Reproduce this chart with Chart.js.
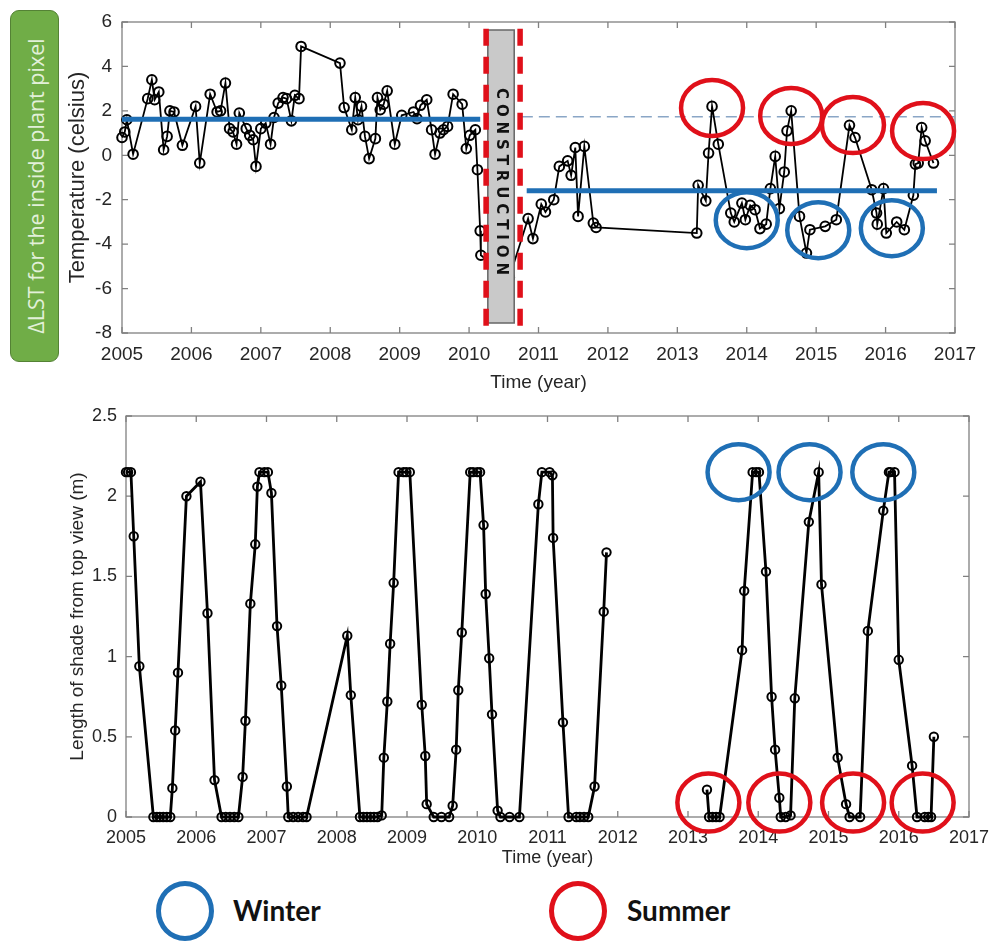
<!DOCTYPE html>
<html>
<head>
<meta charset="utf-8">
<script src="https://cdn.jsdelivr.net/npm/chart.js@4.4.1/dist/chart.umd.min.js"></script>
<style>
  body { margin: 0; background: #fff; width: 992px; height: 944px; position: relative; overflow: hidden; }
  canvas { position: absolute; left: 0; }
  #topChart { top: 0; }
  #bottomChart { top: 395px; }
  .tag { position: absolute; left: 10px; top: 10px; width: 49px; height: 352px; background: #70ad47;
         border: 1.5px solid #548235; border-radius: 9px; box-sizing: border-box; }
  .tag span { position: absolute; left: 50%; top: 50%; transform: translate(-50%, -50%) rotate(-90deg);
              white-space: nowrap; color: #e2f0d9; font: 21.5px "Open Sans", "Noto Sans", sans-serif; }
  .ring { position: absolute; width: 48px; height: 50px; border-radius: 50%; border: 5px solid; }
  .lbl { position: absolute; font: bold 28px Lato, "Noto Sans", sans-serif; color: #111; }
</style>
</head>
<body>
<div class="tag"><span>ΔLST for the inside plant pixel</span></div>
<canvas id="topChart" width="992" height="395"></canvas>
<canvas id="bottomChart" width="992" height="480"></canvas>
<div class="ring" style="left:156px;top:881px;border-color:#1f6fb5"></div>
<div class="lbl" style="left:233px;top:893px">Winter</div>
<div class="ring" style="left:549px;top:881px;border-color:#e0101a"></div>
<div class="lbl" style="left:627px;top:893px">Summer</div>
<script>
// top panel: ΔLST of the plant pixel (celsius)
const tempYears = [
  2005.00, 2005.04, 2005.07, 2005.16, 2005.37, 2005.43, 2005.47, 2005.53, 2005.60, 2005.65,
  2005.69, 2005.75, 2005.87, 2006.06, 2006.12, 2006.27, 2006.37, 2006.42, 2006.49, 2006.55,
  2006.60, 2006.65, 2006.69, 2006.79, 2006.84, 2006.89, 2006.93, 2007.00, 2007.07, 2007.14,
  2007.19, 2007.25, 2007.32, 2007.37, 2007.44, 2007.49, 2007.55, 2007.58, 2008.14, 2008.20,
  2008.31, 2008.36, 2008.40, 2008.45, 2008.50, 2008.56, 2008.65, 2008.68, 2008.72, 2008.77,
  2008.82, 2008.93, 2009.03, 2009.20, 2009.25, 2009.30, 2009.39, 2009.46, 2009.51, 2009.58,
  2009.63, 2009.69, 2009.77, 2009.90, 2009.96, 2010.01, 2010.09, 2010.12, 2010.16, 2010.17,
  2010.58, 2010.85, 2010.92, 2011.04, 2011.10, 2011.22, 2011.30, 2011.42, 2011.47, 2011.53,
  2011.57, 2011.66, 2011.79, 2011.83, 2013.28, 2013.30, 2013.41, 2013.45, 2013.50, 2013.59,
  2013.77, 2013.82, 2013.93, 2013.98, 2014.05, 2014.12, 2014.19, 2014.28, 2014.34, 2014.41,
  2014.47, 2014.54, 2014.58, 2014.64, 2014.76, 2014.86, 2014.91, 2015.13, 2015.29, 2015.48,
  2015.56, 2015.80, 2015.87, 2015.88, 2015.97, 2016.01, 2016.16, 2016.27, 2016.40, 2016.43,
  2016.47, 2016.52, 2016.57, 2016.69
];
const tempValues = [
  0.8, 1.05, 1.6, 0.05, 2.55, 3.4, 2.5, 2.85, 0.25, 0.85,
  2.0, 1.95, 0.45, 2.2, -0.35, 2.75, 1.95, 2.0, 3.25, 1.2,
  1.05, 0.5, 1.9, 1.2, 0.9, 0.7, -0.5, 1.2, 1.45, 0.5,
  1.7, 2.35, 2.6, 2.55, 1.55, 2.7, 2.55, 4.9, 4.15, 2.15,
  1.15, 2.6, 1.6, 2.2, 0.85, -0.15, 0.75, 2.6, 2.05, 2.3,
  2.9, 0.5, 1.8, 1.95, 1.65, 2.25, 2.5, 1.15, 0.05, 1.0,
  1.15, 1.3, 2.75, 2.3, 0.3, 0.9, 1.15, -0.65, -3.4, -4.5,
  -5.5, -2.85, -3.75, -2.2, -2.55, -2.0, -0.5, -0.25, -0.9, 0.35,
  -2.75, 0.4, -3.05, -3.25, -3.5, -1.35, -2.05, 0.1, 2.2, 0.5,
  -2.6, -3.0, -2.15, -2.9, -2.25, -2.45, -3.3, -3.1, -1.5, -0.05,
  -2.4, -0.75, 1.1, 2.0, -2.75, -4.4, -3.35, -3.2, -2.9, 1.35,
  0.8, -1.55, -2.6, -3.1, -1.5, -3.5, -3.0, -3.35, -1.8, -0.4,
  -0.35, 1.25, 0.65, -0.35
];
const meanBeforeYears = [2005, 2010.16];
const meanBeforeValue = 1.62;
const meanAfterYears = [2010.83, 2016.74];
const meanAfterValue = -1.6;
const refYears = [2010.76, 2017];
const refValue = 1.74;
const constructionBox = [2010.27, 2010.65];
const constructionLines = [2010.245, 2010.735];
const summerTop = [[2013.50, 2.13], [2014.64, 1.77], [2015.53, 1.36], [2016.54, 1.09]];
const winterTop = [[2014.00, -2.92], [2015.03, -3.37], [2016.09, -3.28]];

// bottom panel: length of shade from top view (m)
const shadeYears = [
  2005.00, 2005.03, 2005.07, 2005.11, 2005.19, 2005.39, 2005.44, 2005.48, 2005.53, 2005.58,
  2005.63, 2005.66, 2005.70, 2005.74, 2005.86, 2006.06, 2006.16, 2006.26, 2006.36, 2006.42,
  2006.48, 2006.54, 2006.60, 2006.66, 2006.70, 2006.77, 2006.84, 2006.87, 2006.90, 2006.97,
  2007.02, 2007.07, 2007.15, 2007.21, 2007.29, 2007.31, 2007.38, 2007.45, 2007.52, 2007.57,
  2008.15, 2008.20, 2008.33, 2008.38, 2008.43, 2008.48, 2008.53, 2008.58, 2008.64, 2008.67,
  2008.72, 2008.76, 2008.81, 2008.88, 2008.95, 2008.99, 2009.04, 2009.21, 2009.26, 2009.28,
  2009.38, 2009.49, 2009.60, 2009.65, 2009.70, 2009.73, 2009.78, 2009.90, 2009.94, 2010.00,
  2010.04, 2010.09, 2010.12, 2010.17, 2010.21, 2010.29, 2010.33, 2010.46, 2010.60, 2010.87,
  2010.92, 2011.03, 2011.07, 2011.08, 2011.22, 2011.30, 2011.41, 2011.46, 2011.52, 2011.58,
  2011.67, 2011.80, 2011.84, 2012.50, 2013.27, 2013.30, 2013.35, 2013.40, 2013.45, 2013.77,
  2013.80, 2013.92, 2013.97, 2014.01, 2014.11, 2014.19, 2014.24, 2014.30, 2014.32, 2014.39,
  2014.46, 2014.52, 2014.72, 2014.86, 2014.90, 2015.13, 2015.25, 2015.30, 2015.45, 2015.56,
  2015.78, 2015.86, 2015.88, 2015.94, 2016.00, 2016.19, 2016.26, 2016.37, 2016.42, 2016.46,
  2016.50, 2016.72
];
const shadeValues = [
  2.15, 2.15, 2.15, 1.75, 0.94, 0, 0, 0, 0, 0,
  0, 0.18, 0.54, 0.9, 2.0, 2.09, 1.27, 0.23, 0, 0,
  0, 0, 0, 0.25, 0.6, 1.33, 1.7, 2.06, 2.15, 2.15,
  2.15, 2.02, 1.19, 0.82, 0.19, 0, 0, 0, 0, 0,
  1.13, 0.76, 0, 0, 0, 0, 0, 0, 0.01, 0.37,
  0.72, 1.08, 1.46, 2.15, 2.15, 2.15, 2.15, 0.70, 0.38, 0.08,
  0, 0, 0, 0.07, 0.42, 0.79, 1.15, 2.15, 2.15, 2.15,
  2.15, 1.82, 1.39, 0.99, 0.64, 0.04, 0, 0, 0, 1.95,
  2.15, 2.15, 2.13, 1.74, 0.59, 0, 0, 0, 0, 0,
  0.19, 1.28, 1.65, null, 0.17, 0, 0, 0, 0, 1.04,
  1.41, 2.15, 2.15, 2.15, 1.53, 0.75, 0.42, 0.12, 0, 0,
  0.01, 0.74, 1.84, 2.15, 1.45, 0.37, 0.08, 0, 0, 1.16,
  1.91, 2.15, 2.15, 2.15, 0.98, 0.32, 0, 0, 0, 0,
  0.50
];
const winterBottom = [[2013.72, 2.15], [2014.73, 2.15], [2015.78, 2.15]];
const summerBottom = [[2013.29, 0.09], [2014.30, 0.09], [2015.35, 0.09], [2016.34, 0.09]];

const BLUE = '#1f6fb5', RED = '#e0101a', TEXT = '#262626';
Chart.defaults.font.family = '"Liberation Sans", Arial, sans-serif';
Chart.defaults.color = TEXT;

const pairs = (xs, ys) => xs.map((x, i) => ({ x: x, y: ys[i] }));
const flat = (xs, v) => xs.map(x => ({ x: x, y: v }));

// matlab style box with inward ticks on all four sides
const matlabBox = {
  id: 'matlabBox',
  beforeDatasetsDraw(chart) {
    const { ctx, chartArea: a, scales: { x, y } } = chart;
    ctx.save();
    ctx.strokeStyle = '#808080';
    ctx.lineWidth = 1.3;
    ctx.strokeRect(a.left, a.top, a.right - a.left, a.bottom - a.top);
    ctx.beginPath();
    x.ticks.forEach(t => {
      const px = x.getPixelForValue(t.value);
      ctx.moveTo(px, a.bottom); ctx.lineTo(px, a.bottom - 6);
      ctx.moveTo(px, a.top); ctx.lineTo(px, a.top + 6);
    });
    y.ticks.forEach(t => {
      const py = y.getPixelForValue(t.value);
      ctx.moveTo(a.left, py); ctx.lineTo(a.left + 6, py);
      ctx.moveTo(a.right, py); ctx.lineTo(a.right - 6, py);
    });
    ctx.stroke();
    ctx.restore();
  }
};

function ring(ctx, x, y, pt, color, rx, ry) {
  ctx.strokeStyle = color;
  ctx.lineWidth = 4.5;
  ctx.beginPath();
  ctx.ellipse(x.getPixelForValue(pt[0]), y.getPixelForValue(pt[1]), rx, ry, 0, 0, Math.PI * 2);
  ctx.stroke();
}

const topMarks = {
  id: 'topMarks',
  afterDatasetsDraw(chart) {
    const { ctx, scales: { x, y } } = chart;
    ctx.save();
    // construction period
    const x0 = x.getPixelForValue(constructionBox[0]), x1 = x.getPixelForValue(constructionBox[1]);
    const yTop = y.getPixelForValue(5.64), yBot = y.getPixelForValue(-7.55);
    ctx.fillStyle = '#c9c9c9';
    ctx.fillRect(x0, yTop, x1 - x0, yBot - yTop);
    ctx.strokeStyle = '#666';
    ctx.lineWidth = 1.5;
    ctx.strokeRect(x0, yTop, x1 - x0, yBot - yTop);
    ctx.strokeStyle = RED;
    ctx.lineWidth = 5.5;
    ctx.setLineDash([17, 11]);
    constructionLines.forEach(v => {
      const px = x.getPixelForValue(v);
      ctx.beginPath();
      ctx.moveTo(px, y.getPixelForValue(5.7));
      ctx.lineTo(px, y.getPixelForValue(-7.75));
      ctx.stroke();
    });
    ctx.setLineDash([]);
    // vertical label
    const word = 'CONSTRUCTION';
    ctx.font = 'bold 15px "DejaVu Sans", sans-serif';
    ctx.fillStyle = '#111';
    ctx.translate((x0 + x1) / 2, (yTop + yBot) / 2 + 5);
    ctx.rotate(Math.PI / 2);
    const widths = word.split('').map(c => ctx.measureText(c).width);
    const total = 187;
    const gap = (total - widths.reduce((s, w) => s + w, 0)) / (word.length - 1);
    ctx.textBaseline = 'middle';
    let pos = -total / 2;
    word.split('').forEach((c, i) => { ctx.fillText(c, pos, 0); pos += widths[i] + gap; });
    ctx.restore();
    ctx.save();
    summerTop.forEach(p => ring(ctx, x, y, p, RED, 31, 28));
    winterTop.forEach(p => ring(ctx, x, y, p, BLUE, 31, 28));
    ctx.restore();
  }
};

const bottomMarks = {
  id: 'bottomMarks',
  afterDatasetsDraw(chart) {
    const { ctx, scales: { x, y } } = chart;
    ctx.save();
    winterBottom.forEach(p => ring(ctx, x, y, p, BLUE, 31, 28));
    summerBottom.forEach(p => ring(ctx, x, y, p, RED, 31, 29));
    ctx.restore();
  }
};

const markerStyle = {
  borderColor: '#000',
  pointRadius: 4.8,
  pointBorderColor: '#000',
  pointBackgroundColor: 'rgba(0,0,0,0)',
  pointBorderWidth: 2,
  clip: false,
  order: 1
};

function axisX(fontSize, tickPad, height, titlePad) {
  return {
    type: 'linear', min: 2005, max: 2017,
    grid: { display: false, drawTicks: false },
    border: { display: false },
    ticks: { stepSize: 1, padding: tickPad, font: { size: fontSize }, callback: v => String(v) },
    title: { display: true, text: 'Time (year)', font: { size: fontSize }, padding: { top: 0, bottom: titlePad } },
    // keep the plot edges where the layout padding puts them
    afterFit: s => { s.height = height; s.paddingLeft = 0; s.paddingRight = 0; }
  };
}

new Chart(document.getElementById('topChart'), {
  type: 'line',
  data: {
    datasets: [
      { data: flat(meanBeforeYears, meanBeforeValue), borderColor: BLUE, borderWidth: 5, pointRadius: 0, order: 0 },
      { data: flat(meanAfterYears, meanAfterValue), borderColor: BLUE, borderWidth: 5, pointRadius: 0, order: 0 },
      { data: flat(refYears, refValue), borderColor: '#8aa6c6', borderWidth: 1.5, borderDash: [11, 6], pointRadius: 0, order: 2 },
      Object.assign({ data: pairs(tempYears, tempValues), borderWidth: 1.8 }, markerStyle)
    ]
  },
  options: {
    responsive: false, animation: false, devicePixelRatio: 1,
    layout: { padding: { left: 60, right: 37, top: 22, bottom: 0 } },
    plugins: { legend: { display: false }, tooltip: { enabled: false } },
    scales: {
      x: axisX(19, 10, 62, 1),
      y: {
        min: -8, max: 6,
        grid: { display: false, drawTicks: false },
        border: { display: false },
        ticks: { stepSize: 2, padding: 10, font: { size: 19 } },
        title: { display: true, text: 'Temperature (celsius)', font: { size: 22 }, padding: { top: 5, bottom: 0 } },
        afterFit: s => { s.width = 62; }
      }
    }
  },
  plugins: [matlabBox, topMarks]
});

new Chart(document.getElementById('bottomChart'), {
  type: 'line',
  data: {
    datasets: [
      Object.assign({ data: pairs(shadeYears, shadeValues), borderWidth: 2.8, spanGaps: false }, markerStyle, { pointRadius: 4.2 })
    ]
  },
  options: {
    responsive: false, animation: false, devicePixelRatio: 1,
    layout: { padding: { left: 60, right: 23, top: 21, bottom: 0 } },
    plugins: { legend: { display: false }, tooltip: { enabled: false } },
    scales: {
      x: axisX(18, 10, 58, 6),
      y: {
        min: 0, max: 2.5,
        grid: { display: false, drawTicks: false },
        border: { display: false },
        ticks: { stepSize: 0.5, padding: 9, font: { size: 18 }, callback: v => String(v) },
        title: { display: true, text: 'Length of shade from top view (m)', font: { size: 19 }, padding: { top: 6, bottom: 0 } },
        afterFit: s => { s.width = 66; }
      }
    }
  },
  plugins: [matlabBox, bottomMarks]
});
</script>
</body>
</html>
